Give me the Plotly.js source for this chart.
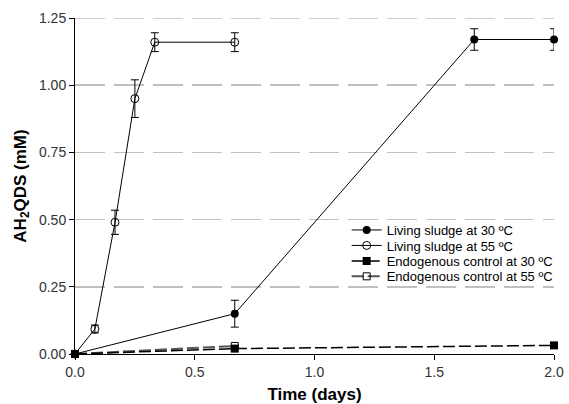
<!DOCTYPE html>
<html>
<head>
<meta charset="utf-8">
<script src="https://cdn.plot.ly/plotly-3.0.1.min.js"></script>
<style>body{margin:0;padding:0;background:#fff;}#chart{width:569px;height:404px;}</style>
</head>
<body>
<div id="chart"></div>
<script>
// Data
const seriesNames = ["Living sludge at 30 ºC", "Living sludge at 55 ºC", "Endogenous control at 30 ºC", "Endogenous control at 55 ºC"];
const ls30_x = [0, 0.667, 1.667, 2.0];
const ls30_y = [0, 0.15, 1.17, 1.17];
const ls30_err = [0, 0.05, 0.04, 0.04];
const ls55_x = [0, 0.083, 0.167, 0.25, 0.333, 0.667];
const ls55_y = [0, 0.093, 0.49, 0.95, 1.16, 1.16];
const ls55_err = [0, 0.015, 0.045, 0.07, 0.035, 0.035];
const ec30_x = [0, 0.667, 2.0];
const ec30_y = [0, 0.02, 0.032];
const ec55_x = [0, 0.667];
const ec55_y = [0, 0.03];
const xTicks = [0, 0.5, 1.0, 1.5, 2.0];
const yTicks = [0, 0.25, 0.5, 0.75, 1.0, 1.25];

const FONT = 'Liberation Sans, Arial, sans-serif';
const errStyle = (arr) => ({type: 'data', array: arr, visible: true, color: '#000', thickness: 1, width: 4});

const traces = [
  {x: ec55_x, y: ec55_y, name: seriesNames[3], legend: 'legend4', mode: 'lines+markers', cliponaxis: false,
   line: {color: '#555', width: 2, dash: '12px,4px'},
   marker: {symbol: 'square-open', size: 7, color: '#000', line: {width: 1, color: '#000'}}},
  {x: ec30_x, y: ec30_y, name: seriesNames[2], legend: 'legend3', mode: 'lines+markers', cliponaxis: false,
   line: {color: '#000', width: 1.5, dash: '12px,4px'},
   marker: {symbol: 'square', size: 8, color: '#000'}},
  {x: ls55_x, y: ls55_y, name: seriesNames[1], legend: 'legend2', mode: 'lines+markers', cliponaxis: false,
   error_y: errStyle(ls55_err),
   line: {color: '#000', width: 1},
   marker: {symbol: 'circle-open', size: 8, color: '#000', line: {width: 1, color: '#000'}}},
  {x: ls30_x, y: ls30_y, name: seriesNames[0], legend: 'legend', mode: 'lines+markers', cliponaxis: false,
   error_y: errStyle(ls30_err),
   line: {color: '#000', width: 1},
   marker: {symbol: 'circle', size: 8, color: '#000'}}
];

const legBase = (y) => ({x: 0.566, y: y, xanchor: 'left', yanchor: 'middle', font: {size: 13, color: '#000', family: FONT},
  bgcolor: 'rgba(255,255,255,0)', itemwidth: 30, borderwidth: 0});

const layout = {
  width: 569, height: 404,
  margin: {l: 75, r: 14, t: 18, b: 50},
  paper_bgcolor: '#fff', plot_bgcolor: '#fff',
  font: {family: FONT, size: 14, color: '#222'},
  showlegend: true,
  legend: legBase(0.369),
  legend2: legBase(0.323),
  legend3: legBase(0.277),
  legend4: legBase(0.231),
  shapes: [{type: 'line', xref: 'paper', yref: 'y', x0: 0, x1: 1, y0: yTicks[yTicks.length - 1], y1: yTicks[yTicks.length - 1],
            line: {color: '#c0c0c0', width: 1.5, dash: '30px,9px'}, layer: 'below'}],
  xaxis: {range: [0, 2.0], tickvals: xTicks, tickformat: '.1f', ticks: 'outside', ticklen: 5,
          tickcolor: '#000', showline: true, linecolor: '#000', linewidth: 1, showgrid: false, zeroline: false,
          title: {text: 'Time (days)', font: {size: 17, color: '#000', family: FONT, weight: 'bold'}, standoff: 10},
          tickfont: {size: 14, color: '#333'}},
  yaxis: {range: [0, 1.25], tickvals: yTicks, tickformat: '.2f', ticks: 'outside', ticklen: 5,
          tickcolor: '#000', showline: true, linecolor: '#000', linewidth: 1, showgrid: true,
          gridcolor: '#c0c0c0', gridwidth: 1.5, griddash: '30px,9px', zeroline: false,
          title: {text: 'AH<sub>2</sub>QDS (mM)', font: {size: 17, color: '#000', family: FONT, weight: 'bold'}, standoff: 8},
          tickfont: {size: 14, color: '#333'}}
};

Plotly.newPlot('chart', traces, layout, {displayModeBar: false, staticPlot: true});
</script>
</body>
</html>
